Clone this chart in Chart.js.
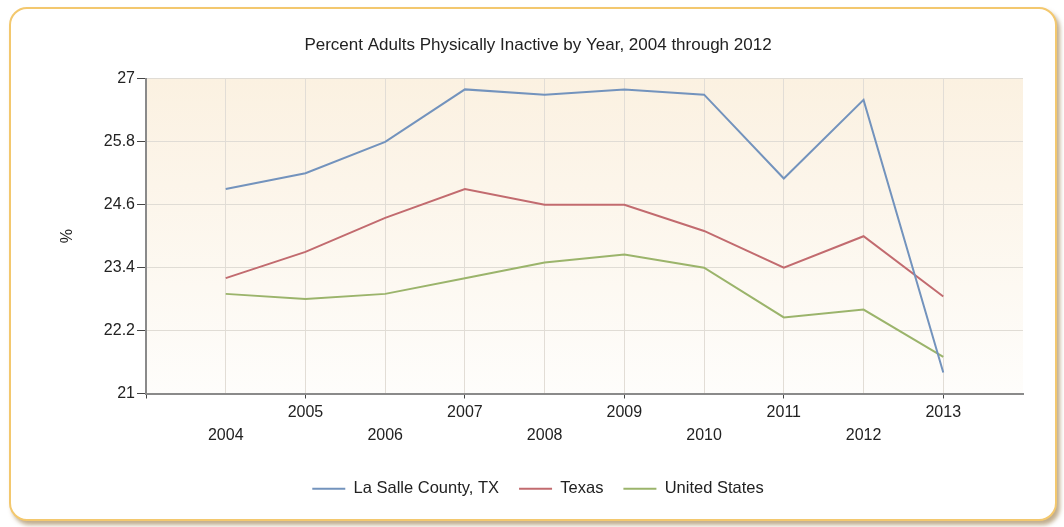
<!DOCTYPE html>
<html>
<head>
<meta charset="utf-8">
<script src="https://cdn.jsdelivr.net/npm/chart.js@4"></script>
<style>
  html, body { margin: 0; padding: 0; background: #ffffff; }
  #wrap { position: relative; width: 1064px; height: 527px; overflow: hidden; }
  #card {
    position: absolute; left: 9px; top: 7px; width: 1044px; height: 510px;
    border: 2px solid #f3c86e; border-radius: 18px; background: #ffffff;
    box-shadow: 3px 4px 4px rgba(140, 105, 50, 0.55);
  }
  #c { position: absolute; left: 0; top: 0; }
</style>
</head>
<body>
<div id="wrap">
  <div id="card"></div>
  <canvas id="c" width="1064" height="527"></canvas>
</div>
<script>
const chartTitle = 'Percent Adults Physically Inactive by Year, 2004 through 2012';
const years = [2004, 2005, 2006, 2007, 2008, 2009, 2010, 2011, 2012, 2013];
const laSalle = [24.9, 25.2, 25.8, 26.8, 26.7, 26.8, 26.7, 25.1, 26.6, 21.4];
const texas = [23.2, 23.7, 24.35, 24.9, 24.6, 24.6, 24.1, 23.4, 24.0, 22.85];
const unitedStates = [22.9, 22.8, 22.9, 23.2, 23.5, 23.65, 23.4, 22.45, 22.6, 21.7];
const yTicks = [21, 22.2, 23.4, 24.6, 25.8, 27];
const seriesNames = ['La Salle County, TX', 'Texas', 'United States'];
const seriesColors = ['#7393bd', '#c26b6f', '#9bb46b'];

const toPoints = vals => years.map((y, i) => ({ x: y, y: vals[i] }));
const seriesValues = [laSalle, texas, unitedStates];
const FONT = 'Arial, "Liberation Sans", sans-serif';

const plotBg = {
  id: 'plotBg',
  beforeDraw(chart) {
    const { ctx, chartArea: a } = chart;
    const g = ctx.createLinearGradient(0, a.top, 0, a.bottom);
    g.addColorStop(0, '#fbf1e1');
    g.addColorStop(1, '#fefdfb');
    ctx.save();
    ctx.fillStyle = g;
    ctx.fillRect(a.left, a.top, a.right - a.left, a.bottom - a.top);
    ctx.restore();
  }
};

const firstYear = years[0], lastYear = years[years.length - 1];

new Chart(document.getElementById('c'), {
  type: 'line',
  data: {
    datasets: seriesNames.map((name, i) => ({
      label: name,
      data: toPoints(seriesValues[i]),
      borderColor: seriesColors[i],
      backgroundColor: seriesColors[i],
      borderWidth: 2,
      pointRadius: 0,
      tension: 0,
      fill: false
    }))
  },
  options: {
    responsive: false,
    animation: false,
    layout: { padding: { left: 53, right: 41, top: 0, bottom: 20 } },
    plugins: {
      title: {
        display: true,
        text: chartTitle,
        color: '#222222',
        font: { family: FONT, size: 17, weight: 'normal' },
        padding: { top: 35.5, bottom: 23 }
      },
      legend: {
        position: 'bottom',
        labels: {
          color: '#222222',
          font: { family: FONT, size: 16.5 },
          boxWidth: 33,
          boxHeight: 2,
          padding: 20,
          generateLabels(chart) {
            return Chart.defaults.plugins.legend.labels.generateLabels(chart).map(l => ({
              ...l, lineWidth: 0, fillStyle: l.strokeStyle
            }));
          }
        }
      },
      tooltip: { enabled: false }
    },
    scales: {
      x: {
        type: 'linear',
        min: firstYear - 1,
        max: lastYear + 1,
        afterFit(scale) { scale.height = 67; },
        ticks: {
          stepSize: 1,
          autoSkip: false,
          maxRotation: 0,
          color: '#222222',
          padding: 2,
          font: { family: FONT, size: 16, lineHeight: 1.45 },
          callback(v) {
            if (v < firstYear || v > lastYear) return '';
            return v % 2 === 1 ? String(v) : ['', String(v)];
          }
        },
        grid: {
          color: ctx => (ctx.tick && ctx.tick.value >= firstYear && ctx.tick.value <= lastYear) ? '#e2ddd6' : 'rgba(0,0,0,0)',
          tickColor: ctx => (ctx.tick && ctx.tick.value % 2 === 1 && ctx.tick.value <= lastYear) ? '#444444' : 'rgba(0,0,0,0)',
          tickLength: 5,
          lineWidth: 1
        },
        border: { display: true, color: '#8a8a8a', width: 2 }
      },
      y: {
        min: yTicks[0],
        max: yTicks[yTicks.length - 1],
        afterFit(scale) { scale.width = 93; },
        afterBuildTicks(scale) { scale.ticks = yTicks.map(v => ({ value: v })); },
        ticks: {
          color: '#222222',
          padding: 2,
          font: { family: FONT, size: 16 },
          callback: v => String(Number(v.toFixed(1)))
        },
        grid: {
          color: '#e0dcd5',
          tickColor: '#444444',
          tickLength: 9,
          lineWidth: 1
        },
        border: { display: true, color: '#8a8a8a', width: 2 },
        title: {
          display: true,
          text: '%',
          color: '#222222',
          font: { family: FONT, size: 16 },
          padding: { top: 5, bottom: 0 }
        }
      }
    }
  },
  plugins: [plotBg]
});
</script>
</body>
</html>
